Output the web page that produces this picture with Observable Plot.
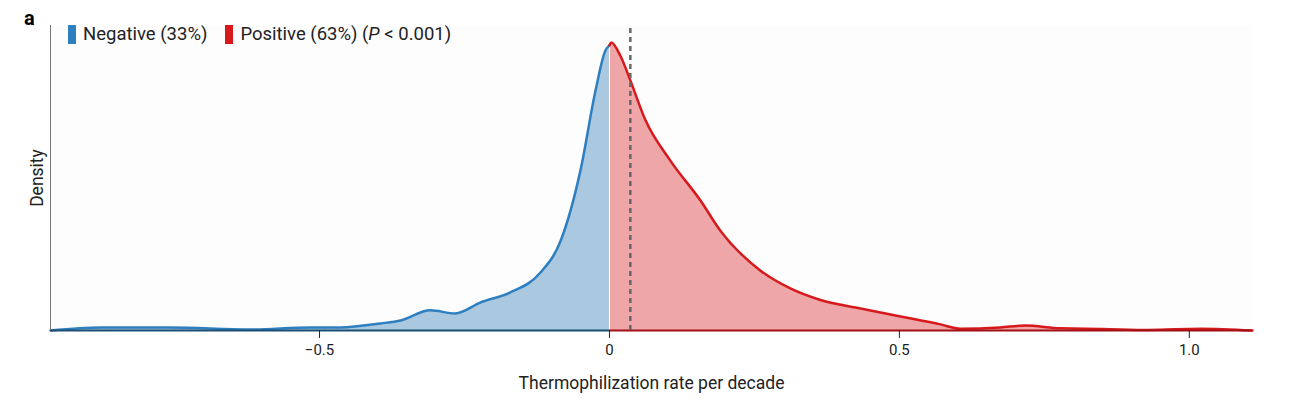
<!DOCTYPE html>
<html><head><meta charset="utf-8">
<script src="https://cdn.jsdelivr.net/npm/d3@7"></script>
<script src="https://cdn.jsdelivr.net/npm/@observablehq/plot@0.6"></script>
<style>
body{margin:0;background:#fff;font-family:Roboto,"Noto Sans",sans-serif;}
#wrap{position:relative;width:1291px;height:400px;}
#lab{position:absolute;left:24px;top:6px;font-weight:bold;font-size:20px;}
#leg{position:absolute;left:68px;top:23px;font-size:18.5px;color:#222;display:flex;align-items:center;gap:7px;}
.sw{display:inline-block;width:8px;height:19px;}
</style></head><body>
<div id="wrap"><div id="chart"></div><div id="lab">a</div>
<div id="leg"><span class="sw" style="background:#2e7fbf"></span><span>Negative (33%)</span><span style="width:4px"></span><span class="sw" style="background:#d7191c"></span><span>Positive (63%) (<i>P</i> &lt; 0.001)</span></div></div>
<script>
const negX = [-0.964,-0.878,-0.757,-0.62,-0.516,-0.464,-0.395,-0.36,-0.309,-0.266,-0.222,-0.171,-0.119,-0.084,-0.05,-0.024,-0.007,0];
const negY = [0,0.01,0.01,0.003,0.01,0.01,0.023,0.033,0.066,0.056,0.092,0.125,0.19,0.295,0.525,0.787,0.918,0.935];
const posX = [0,0.003,0.019,0.036,0.062,0.105,0.157,0.191,0.26,0.312,0.364,0.433,0.502,0.571,0.605,0.674,0.717,0.778,0.85,0.93,1.02,1.109];
const posY = [0.935,0.944,0.9,0.82,0.69,0.557,0.426,0.328,0.197,0.138,0.1,0.072,0.046,0.02,0.006,0.01,0.016,0.007,0.005,0.002,0.006,0];
const meanX = 0.036;
const xTicks = [-0.5,0,0.5,1.0];
const xTickLabels = ["−0.5","0","0.5","1.0"];
const neg = negX.map((x,i)=>({x,y:negY[i]}));
const pos = posX.map((x,i)=>({x,y:posY[i]}));
const chart = Plot.plot({
  width:1291,height:400,marginLeft:50,marginRight:39,marginTop:25,marginBottom:70,
  style:{fontFamily:"Roboto, sans-serif",fontSize:"15px",color:"#222"},
  x:{domain:[-0.964,1.109]},
  y:{domain:[0,1]},
  marks:[
    Plot.frame({fill:"#fdfdfd",stroke:null}),
    Plot.areaY(neg,{x:"x",y:"y",fill:"#aac8e0",curve:"monotone-x"}),
    Plot.areaY(pos,{x:"x",y:"y",fill:"#eea6a8",curve:"monotone-x"}),
    Plot.ruleX([0],{y1:0,y2:0.935,stroke:"#fff",strokeWidth:1}),
    Plot.lineY(neg,{x:"x",y:"y",stroke:"#2e7fbf",strokeWidth:2.5,curve:"monotone-x"}),
    Plot.lineY(pos,{x:"x",y:"y",stroke:"#d7191c",strokeWidth:2.5,curve:"monotone-x"}),
    Plot.ruleY([0],{x1:-0.964,x2:0,stroke:"#1d4e75",strokeWidth:2}),
    Plot.ruleY([0],{x1:0,x2:1.109,stroke:"#a01014",strokeWidth:2}),
    Plot.ruleX([-0.964],{y1:0,y2:1,stroke:"#777"}),
    Plot.ruleX([meanX],{y1:0,y2:0.99,stroke:"#666",strokeWidth:2.5,strokeDasharray:"5,4"}),
    Plot.axisX({ticks:xTicks,tickFormat:(d,i)=>xTickLabels[i],label:null,tickSize:8,tickPadding:6,fontSize:15}),
    Plot.axisX({ticks:[],label:"Thermophilization rate per decade",labelAnchor:"center",labelArrow:false,labelOffset:58,fontSize:17.5}),
    Plot.axisY({ticks:[],label:"Density",labelAnchor:"center",labelArrow:false,labelOffset:20,fontSize:17.5})
  ]
});
document.getElementById("chart").append(chart);
</script></body></html>
